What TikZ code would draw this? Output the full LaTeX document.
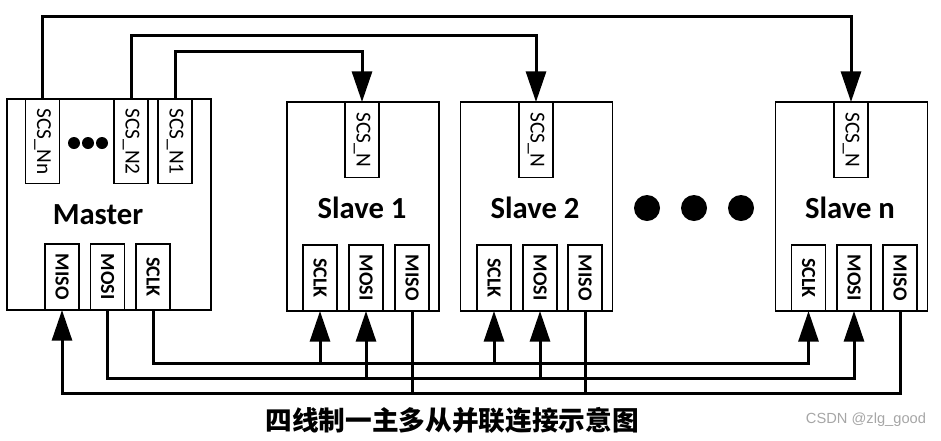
\documentclass[tikz,border=0pt]{standalone}
\usepackage{fontspec}
\setmainfont{Carlito}
\newfontfamily\cjk{Noto Sans CJK SC}
\newfontfamily\wmfont{Liberation Sans}
\usepackage{graphicx}
\usetikzlibrary{arrows.meta}
\tikzset{
  unitbox/.style={draw, line width=1pt, inner sep=0pt},
  pinbox/.style={draw, line width=0.9pt, fill=white, inner sep=0pt, minimum width=25.5pt},
  pintop/.style={pinbox, anchor=north, font=\fontsize{16}{16}\selectfont},
  pinbot/.style={pinbox, anchor=south, minimum height=49pt, font=\bfseries\fontsize{15}{15}\selectfont},
  unitname/.style={font=\bfseries\fontsize{23}{23}\selectfont},
  sig/.style={line width=2.25pt},
  tosig/.style={sig, -{Triangle[width=15pt,length=23pt]}}
}
\begin{document}
\begin{tikzpicture}[x=0.75pt, y=-0.75pt]
    \useasboundingbox (0,0) rectangle (941,440);

    % Master and slave boxes
    \node[unitbox, minimum width=153pt, minimum height=158.25pt] (m) at (109,204.5) {};
    \node[unitbox, minimum width=114pt, minimum height=156.75pt] (s1) at (363,206.5) {};
    \node[unitbox, minimum width=114pt, minimum height=156.75pt] (s2) at (536.5,206.5) {};
    \node[unitbox, minimum width=114pt, minimum height=156.75pt] (sn) at (851.5,206.5) {};

    % Box names
    \node[unitname] (mname) at (98,215) {Master};
    \node[unitname] (s1name) at (362,208) {Slave 1};
    \node[unitname] (s2name) at (535,208) {Slave 2};
    \node[unitname] (snname) at (850,208) {Slave n};

    % Chip select pins
    \node[pintop, minimum height=63pt] (mNn) at (42.5,99) {\rotatebox{-90}{SCS\_Nn}};
    \node[pintop, minimum height=63pt] (mN2) at (131,99) {\rotatebox{-90}{SCS\_N2}};
    \node[pintop, minimum height=63pt] (mN1) at (175,99) {\rotatebox{-90}{SCS\_N1}};
    \node[pintop, minimum height=56.25pt] (s1cs) at (362,102) {\rotatebox{-90}{SCS\_N}};
    \node[pintop, minimum height=56.25pt] (s2cs) at (536,102) {\rotatebox{-90}{SCS\_N}};
    \node[pintop, minimum height=56.25pt] (sncs) at (851,102) {\rotatebox{-90}{SCS\_N}};

    % Dots between master chip selects
    \fill (74,143) circle (4.5pt);
    \fill (88,143) circle (4.5pt);
    \fill (102,143) circle (4.5pt);

    % Dots between slaves
    \fill (647,208) circle (9.75pt);
    \fill (694,208) circle (9.75pt);
    \fill (741,208) circle (9.75pt);

    % Bus pins
    \node[pinbot] (mmiso) at (62,310) {\rotatebox{-90}{MISO}};
    \node[pinbot] (mmosi) at (107.5,310) {\rotatebox{-90}{MOSI}};
    \node[pinbot] (mclk) at (153,310) {\rotatebox{-90}{SCLK}};
    \node[pinbot] (s1clk) at (320,311) {\rotatebox{-90}{SCLK}};
    \node[pinbot] (s1mosi) at (366,311) {\rotatebox{-90}{MOSI}};
    \node[pinbot] (s1miso) at (412,311) {\rotatebox{-90}{MISO}};
    \node[pinbot] (s2clk) at (494,311) {\rotatebox{-90}{SCLK}};
    \node[pinbot] (s2mosi) at (540,311) {\rotatebox{-90}{MOSI}};
    \node[pinbot] (s2miso) at (585,311) {\rotatebox{-90}{MISO}};
    \node[pinbot] (snclk) at (808.5,311) {\rotatebox{-90}{SCLK}};
    \node[pinbot] (snmosi) at (854,311) {\rotatebox{-90}{MOSI}};
    \node[pinbot] (snmiso) at (900,311) {\rotatebox{-90}{MISO}};

    % Chip select lines
    \draw[tosig] (mN1.north) -- ++(0,-48) -| (s1cs.north);
    \draw[tosig] (mN2.north) -- ++(0,-64) -| (s2cs.north);
    \draw[tosig] (mNn.north) -- ++(0,-83) -| (sncs.north);

    % Bus levels
    \coordinate (clkbus) at (0,363);
    \coordinate (mosibus) at (0,378);
    \coordinate (misobus) at (0,393);

    % SCLK bus
    \draw[tosig] (mclk.south) |- (clkbus -| snclk) -- (snclk.south);
    \draw[tosig] (clkbus -| s1clk) -- (s1clk.south);
    \draw[tosig] (clkbus -| s2clk) -- (s2clk.south);

    % MOSI bus
    \draw[tosig] (mmosi.south) |- (mosibus -| snmosi) -- (snmosi.south);
    \draw[tosig] (mosibus -| s1mosi) -- (s1mosi.south);
    \draw[tosig] (mosibus -| s2mosi) -- (s2mosi.south);

    % MISO bus
    \draw[tosig] (snmiso.south) |- (misobus -| mmiso) -- (mmiso.south);
    \draw[sig] (s1miso.south) -- (misobus -| s1miso);
    \draw[sig] (s2miso.south) -- (misobus -| s2miso);

    % Caption and mark
    \node[font=\cjk\bfseries\fontsize{20}{20}\selectfont] (title) at (452,420) {四线制一主多从并联连接示意图};
    \node[font=\wmfont\fontsize{11}{11}\selectfont, text=black!35] (mark) at (866,420) {CSDN @zlg\_good};
\end{tikzpicture}
\end{document}
